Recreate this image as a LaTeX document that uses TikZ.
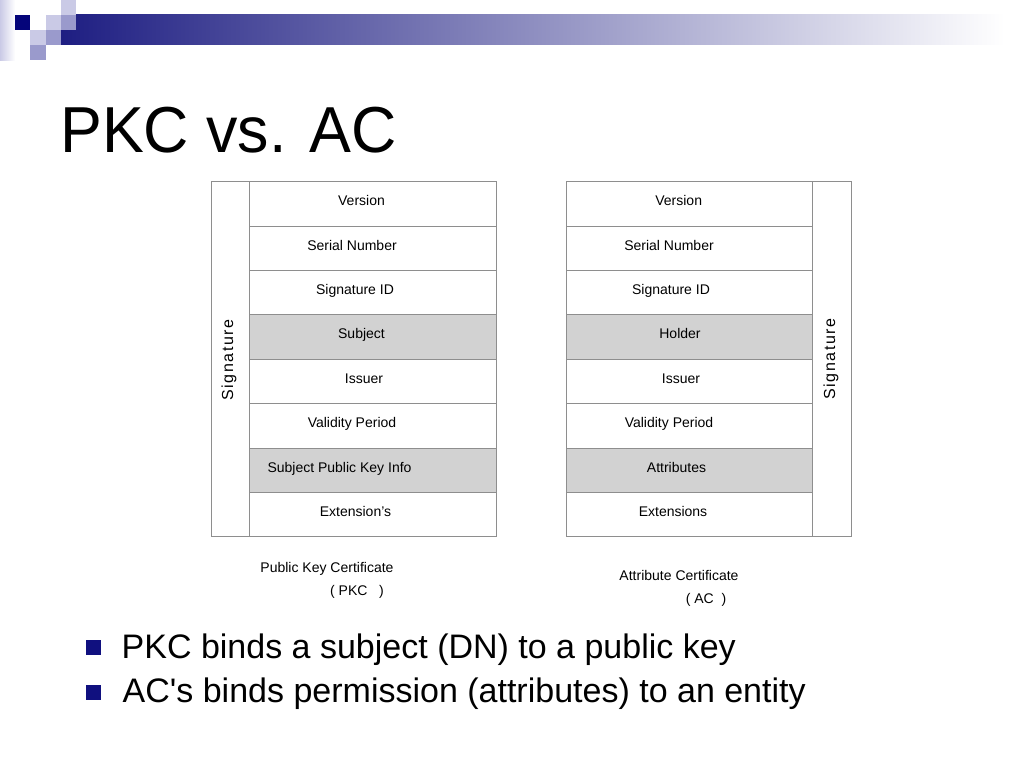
\documentclass[tikz,border=0pt]{standalone}
\usepackage{fontspec}
\setmainfont{Liberation Sans}
\definecolor{logonavy}{HTML}{05057A}
\definecolor{barnavy}{HTML}{1E1E82}
\definecolor{barmid}{HTML}{A4A4BE}
\definecolor{lav}{HTML}{CACAE6}
\definecolor{lavmid}{HTML}{9A9ACC}
\definecolor{cellgrey}{HTML}{D2D2D2}
\definecolor{ruleline}{HTML}{8E8E8E}
\definecolor{bulletnavy}{HTML}{10107F}
\newcommand\sigtext{S\kern1.5pt i\kern1.5pt g\kern1.5pt n\kern1.5pt a\kern1.5pt t\kern1.5pt u\kern1.5pt r\kern1.5pt e}
\newcommand\straightquote{{\XeTeXglyph\XeTeXcharglyph"0027\relax}}
\begin{document}
\begin{tikzpicture}[x=1pt,y=-1pt,
  cellbox/.style={draw=ruleline, line width=0.9pt},
  celltext/.style={inner sep=0pt, anchor=base, font=\fontsize{14}{16}\selectfont},
  sigtext/.style={inner sep=0pt, anchor=base, rotate=90, font=\fontsize{16}{18}\selectfont},
  captext/.style={inner sep=0pt, anchor=base, font=\fontsize{14}{16}\selectfont},
  bullettext/.style={inner sep=0pt, anchor=base west, font=\fontsize{34}{40}\selectfont},
  bulletsq/.style={fill=bulletnavy},
  titletext/.style={inner sep=0pt, anchor=base west, xscale=0.965, font=\fontsize{65}{72}\selectfont}]
\useasboundingbox (0,0) rectangle (1024,768);
\fill[white] (0,0) rectangle (1024,768);
% logo
\shade[left color=lav, right color=white] (0,0) rectangle (15,60);
\shade[left color=barnavy, middle color=barmid, right color=white] (61,15) rectangle (1005,45);
\fill[logonavy] (15,15) rectangle (30,30);
\fill[lav] (46,15) rectangle (61,30);
\fill[lavmid] (61,15) rectangle (76,30);
\fill[lav] (61,0) rectangle (76,15);
\fill[lav] (30,30) rectangle (46,45);
\fill[lavmid] (46,30) rectangle (61,45);
\fill[lavmid] (30,45) rectangle (46,60);
% title
\node[titletext] (title) at (60,152) {PKC vs. AC};
% left table (PKC)
\foreach \i/\f in {0/white,1/white,2/white,3/cellgrey,4/white,5/white,6/cellgrey,7/white}
  \draw[cellbox, fill=\f] ({249.3},{181.7+44.375*\i}) rectangle ({496},{181.7+44.375*(\i+1)});
\draw[cellbox] (211,181.7) rectangle (249.3,536.7);
\node[sigtext] (lsig) at (233,360) {\sigtext};
\node[celltext] (l1) at (361.5,205.7) {Version};
\node[celltext] (l2) at (352,250.1) {Serial Number};
\node[celltext] (l3) at (355,294.5) {Signature ID};
\node[celltext] (l4) at (361.5,338.8) {Subject};
\node[celltext] (l5) at (364,383.2) {Issuer};
\node[celltext] (l6) at (352,427.6) {Validity Period};
\node[celltext] (l7) at (339.5,472) {Subject Public Key Info};
\node[celltext] (l8) at (355.5,516.3) {Extension’s};
% right table (AC)
\foreach \i/\f in {0/white,1/white,2/white,3/cellgrey,4/white,5/white,6/cellgrey,7/white}
  \draw[cellbox, fill=\f] ({566},{181.7+44.375*\i}) rectangle ({812.3},{181.7+44.375*(\i+1)});
\draw[cellbox] (812.3,181.7) rectangle (851,536.7);
\node[sigtext] (rsig) at (835,359) {\sigtext};
\node[celltext] (r1) at (678.7,205.7) {Version};
\node[celltext] (r2) at (669,250.1) {Serial Number};
\node[celltext] (r3) at (671,294.5) {Signature ID};
\node[celltext] (r4) at (680,338.8) {Holder};
\node[celltext] (r5) at (681,383.2) {Issuer};
\node[celltext] (r6) at (669,427.6) {Validity Period};
\node[celltext] (r7) at (676.5,472) {Attributes};
\node[celltext] (r8) at (673,516.3) {Extensions};
% captions
\node[captext] (lcap1) at (327,572) {Public Key Certificate};
\node[captext] (lcap2) at (357,595) {(~PKC~~~)};
\node[captext] (rcap1) at (679,580) {Attribute Certificate};
\node[captext] (rcap2) at (706,603) {(~AC~~)};
% bullets
\fill[bulletsq] (86,640) rectangle (100.5,655);
\fill[bulletsq] (86,684.5) rectangle (100.5,699.5);
\node[bullettext] (b1) at (121.5,658) {PKC binds a subject (DN) to a public key};
\node[bullettext] (b2) at (122.5,702) {AC\straightquote s binds permission (attributes) to an entity};
\end{tikzpicture}
\end{document}
